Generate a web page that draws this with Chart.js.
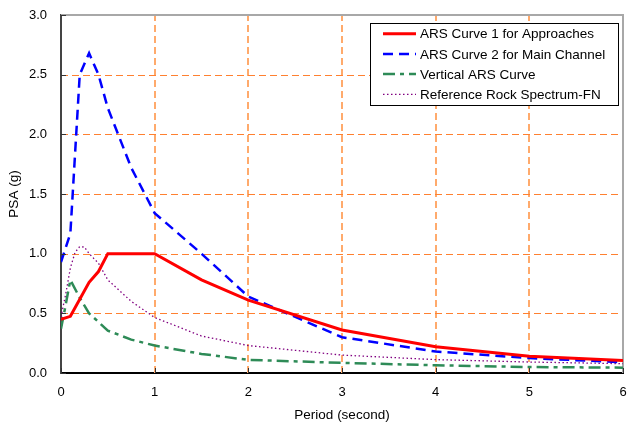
<!DOCTYPE html>
<html>
<head>
<meta charset="utf-8">
<script src="https://cdn.jsdelivr.net/npm/chart.js@4.4.1/dist/chart.umd.min.js"></script>
<style>
  html, body { margin: 0; padding: 0; background: #fff; }
  #wrap { width: 627px; height: 423px; position: relative; }
</style>
</head>
<body>
<div id="wrap"><canvas id="myChart" width="627" height="423"></canvas></div>
<script>
// values
var periodsCurve1 = [0, 0.1, 0.3, 0.4, 0.5, 1.0, 1.5, 2.0, 3.0, 4.0, 5.0, 6.0];
var psaCurve1 = [0.45, 0.475, 0.76, 0.85, 1.0, 1.0, 0.78, 0.61, 0.36, 0.22, 0.14, 0.105];

var periodsCurve2 = [0, 0.1, 0.2, 0.3, 0.4, 0.5, 0.75, 1.0, 1.5, 2.0, 3.0, 4.0, 5.0, 6.0];
var psaCurve2 = [0.93, 1.17, 2.5, 2.68, 2.5, 2.22, 1.72, 1.34, 1.0, 0.64, 0.30, 0.18, 0.125, 0.09];

var periodsVertical = [0, 0.04, 0.1, 0.2, 0.3, 0.5, 0.75, 1.0, 1.5, 2.0, 3.0, 4.0, 5.0, 6.0];
var psaVertical = [0.37, 0.53, 0.78, 0.63, 0.5, 0.355, 0.28, 0.23, 0.16, 0.11, 0.085, 0.065, 0.05, 0.045];

var periodsRock = [0, 0.05, 0.1, 0.15, 0.2, 0.25, 0.3, 0.4, 0.5, 0.75, 1.0, 1.5, 2.0, 3.0, 4.0, 5.0, 6.0];
var psaRock = [0.47, 0.66, 0.88, 1.01, 1.06, 1.055, 1.0, 0.92, 0.78, 0.6, 0.465, 0.31, 0.23, 0.15, 0.112, 0.092, 0.078];

var seriesLabels = ['ARS Curve 1 for Approaches', 'ARS Curve 2 for Main Channel', 'Vertical ARS Curve', 'Reference Rock Spectrum-FN'];

var xTicks = [0, 1, 2, 3, 4, 5, 6];
var yTicks = [0.0, 0.5, 1.0, 1.5, 2.0, 2.5, 3.0];

function toPoints(xs, ys) {
    return xs.map(function(x, i) { return {x: x, y: ys[i]}; });
}

var FONT = 'Arial, "Liberation Sans", sans-serif';

// dashed grid, frame on top / right, inner tick marks and boxed legend
var extrasPlugin = {
    id: 'extras',
    beforeDatasetsDraw: function(chart) {
        var c = chart.ctx;
        var a = chart.chartArea;
        var xs = chart.scales.x, ys = chart.scales.y;
        c.save();
        c.setLineDash([7, 4]);
        // vertical grid (lighter, wider)
        c.strokeStyle = '#FFAA6C';
        c.lineWidth = 2;
        xTicks.slice(1, -1).forEach(function(v) {
            var px = Math.round(xs.getPixelForValue(v));
            c.beginPath(); c.moveTo(px, a.bottom); c.lineTo(px, a.top); c.stroke();
        });
        // horizontal grid
        c.strokeStyle = '#FF8030';
        c.lineWidth = 1;
        yTicks.slice(1, -1).forEach(function(v) {
            var py = Math.round(ys.getPixelForValue(v)) + 0.5;
            c.beginPath(); c.moveTo(a.left, py); c.lineTo(a.right, py); c.stroke();
        });
        c.setLineDash([]);
        // top & right border
        c.strokeStyle = '#A8A8A8';
        c.lineWidth = 2;
        c.beginPath();
        c.moveTo(a.left, a.top);
        c.lineTo(a.right, a.top);
        c.lineTo(a.right, a.bottom);
        c.stroke();
        c.restore();
    },
    afterDraw: function(chart) {
        var c = chart.ctx;
        var a = chart.chartArea;
        var xs = chart.scales.x, ys = chart.scales.y;
        c.save();
        // inner ticks
        c.strokeStyle = '#333';
        c.lineWidth = 1;
        xTicks.forEach(function(v) {
            var px = Math.round(xs.getPixelForValue(v)) + 0.5;
            c.beginPath(); c.moveTo(px, a.bottom); c.lineTo(px, a.bottom - 5); c.stroke();
        });
        yTicks.forEach(function(v) {
            var py = Math.round(ys.getPixelForValue(v)) + 0.5;
            c.beginPath(); c.moveTo(a.left, py); c.lineTo(a.left + 5, py); c.stroke();
        });

        // legend box
        var bx = a.right - 253, by = a.top + 8, bw = 248, bh = 82;
        c.fillStyle = '#fff';
        c.fillRect(bx, by, bw, bh);
        c.strokeStyle = '#000';
        c.lineWidth = 1;
        c.strokeRect(Math.round(bx) + 0.5, Math.round(by) + 0.5, bw, bh);
        c.font = '13.5px ' + FONT;
        c.textBaseline = 'middle';
        c.textAlign = 'left';
        chart.data.datasets.forEach(function(ds, i) {
            var ry = by + 10.7 + i * 20.2;
            c.save();
            c.strokeStyle = ds.borderColor;
            c.lineWidth = ds.borderWidth;
            c.setLineDash(ds.borderDash || []);
            c.beginPath();
            c.moveTo(bx + 13, ry);
            c.lineTo(bx + 46, ry);
            c.stroke();
            c.restore();
            c.fillStyle = '#000';
            c.fillText(ds.label, bx + 50, ry + 1);
        });
        c.restore();
    }
};

var graphData = {
    type: 'scatter',
    data: {
        datasets: [
            {
                label: seriesLabels[0],
                data: toPoints(periodsCurve1, psaCurve1),
                borderColor: '#FF0000',
                backgroundColor: '#FF0000',
                borderWidth: 3,
                showLine: true,
                pointRadius: 0,
                order: 1,
            },
            {
                label: seriesLabels[1],
                data: toPoints(periodsCurve2, psaCurve2),
                borderColor: '#0000FF',
                backgroundColor: '#0000FF',
                borderWidth: 2.5,
                borderDash: [10, 6],
                showLine: true,
                pointRadius: 0,
                order: 2,
            },
            {
                label: seriesLabels[2],
                data: toPoints(periodsVertical, psaVertical),
                borderColor: '#2E8B57',
                backgroundColor: '#2E8B57',
                borderWidth: 2.5,
                borderDash: [12, 5, 4, 5],
                showLine: true,
                pointRadius: 0,
                order: 3,
            },
            {
                label: seriesLabels[3],
                data: toPoints(periodsRock, psaRock),
                borderColor: '#800080',
                backgroundColor: '#800080',
                borderWidth: 1.3,
                borderDash: [1.5, 2.5],
                showLine: true,
                pointRadius: 0,
                order: 4,
            },
        ]
    },
    options: {
        responsive: false,
        animation: false,
        layout: {
            padding: {left: 0, top: 15, right: 4, bottom: 0}
        },
        plugins: {
            legend: {display: false},
            tooltip: {enabled: false},
        },
        scales: {
            x: {
                type: 'linear',
                min: 0,
                max: 6,
                afterBuildTicks: function(s) { s.ticks = xTicks.map(function(v) { return {value: v}; }); },
                afterFit: function(s) { s.height = 50; s.paddingLeft = 0; s.paddingRight = 0; },
                ticks: {
                    color: '#000',
                    padding: 12,
                    font: {family: FONT, size: 13},
                    callback: function(v) { return String(v); },
                },
                grid: {display: false, drawTicks: false},
                border: {display: true, color: '#000', width: 2},
                title: {
                    display: true,
                    text: 'Period (second)',
                    color: '#000',
                    font: {family: FONT, size: 13.5},
                    padding: {top: 0, bottom: 0},
                },
            },
            y: {
                type: 'linear',
                min: 0,
                max: 3,
                afterBuildTicks: function(s) { s.ticks = yTicks.map(function(v) { return {value: v}; }); },
                afterFit: function(s) { s.width = 61; s.paddingTop = 0; s.paddingBottom = 0; },
                ticks: {
                    color: '#000',
                    padding: 14,
                    font: {family: FONT, size: 13},
                    callback: function(v) { return Number(v).toFixed(1); },
                },
                grid: {display: false, drawTicks: false},
                border: {display: true, color: '#444', width: 2},
                title: {
                    display: true,
                    text: 'PSA (g)',
                    color: '#000',
                    font: {family: FONT, size: 13.5},
                    padding: {top: 6, bottom: 0},
                },
            },
        }
    },
    plugins: [extrasPlugin]
};

var ctx = document.getElementById('myChart');
var myChart = new Chart(ctx, graphData);
</script>
</body>
</html>
